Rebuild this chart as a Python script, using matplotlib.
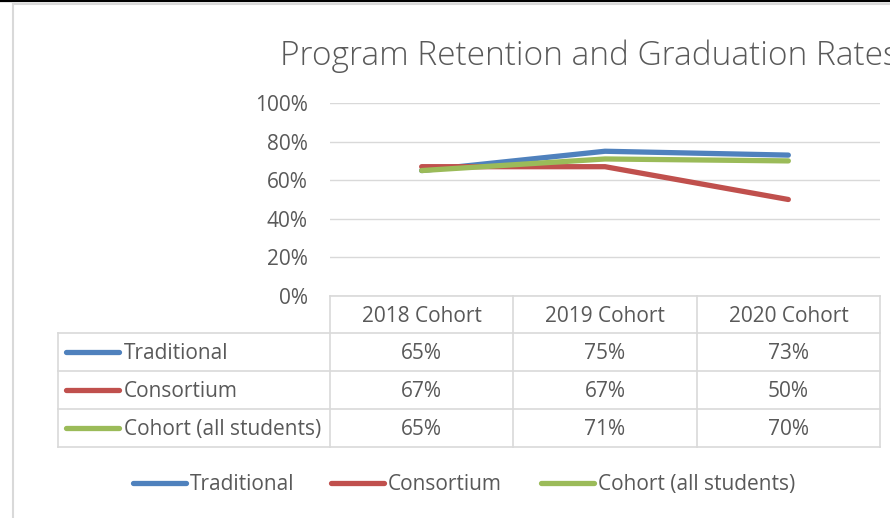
import matplotlib.pyplot as plt
import numpy as np

plt.rcParams['font.family'] = ['Open Sans', 'DejaVu Sans']

# data
cohorts = ['2018 Cohort', '2019 Cohort', '2020 Cohort']
series_names = ['Traditional', 'Consortium', 'Cohort (all students)']
traditional = [0.65, 0.75, 0.73]
consortium = [0.67, 0.67, 0.50]
cohort_all = [0.65, 0.71, 0.70]
y_ticks = [0, 0.2, 0.4, 0.6, 0.8, 1.0]

colors = ['#4f81bd', '#c0504d', '#9bbb59']
text_col = '#595959'
grid_col = '#d9d9d9'

W, H = 890, 518
fig = plt.figure(figsize=(W / 100, H / 100), dpi=100)

# pixel helpers (top-left origin)
def fx(px):
    return px / W

def fy(py):
    return 1 - py / H

fs = 15
dy = 1.5  # small nudge so text sits like the reference

# plot area
left, right, top, bottom = 330, 880, 103, 296
ax = fig.add_axes([fx(left), fy(bottom), fx(right - left), (bottom - top) / H])
x = np.arange(len(cohorts))
all_series = [traditional, consortium, cohort_all]
for vals, c in zip(all_series, colors):
    ax.plot(x, vals, color=c, linewidth=3.8, solid_capstyle='round',
            solid_joinstyle='round', zorder=3)
ax.set_xlim(-0.5, len(cohorts) - 0.5)
ax.set_ylim(0, 1.0)
ax.set_yticks(y_ticks)
ax.set_yticklabels([f'{int(round(v * 100))}%' for v in y_ticks])
ax.tick_params(axis='y', length=0, pad=16, labelsize=fs, labelcolor=text_col)
for lbl in ax.get_yticklabels():
    lbl.set_y(lbl.get_position()[1])
ax.set_xticks([])
for s in ax.spines.values():
    s.set_visible(False)
ax.grid(axis='y', color=grid_col, linewidth=1.0)
ax.set_axisbelow(True)
ax.patch.set_alpha(0)

# overlay axes in pixel coords for table, legend, frame
ov = fig.add_axes([0, 0, 1, 1], zorder=-1)
ov.set_xlim(0, W)
ov.set_ylim(H, 0)
ov.axis('off')

# outer frame bits
ov.plot([0, W], [1.2, 1.2], color='black', linewidth=1.6)
ov.plot([13, W], [3.5, 3.5], color=grid_col, linewidth=1.5)
ov.plot([13, 13], [3.5, H], color=grid_col, linewidth=1.5)

# title
ov.text(280, 65, 'Program Retention and Graduation Rates', fontsize=24,
        color=text_col, ha='left', va='baseline', fontweight='light')

# data table
col_edges = [330, 513, 697, 880]
row_edges = [296, 333, 371, 409, 447]
tbl_left = 58
tc = dict(color=grid_col, linewidth=1.2)
ov.plot([col_edges[0], col_edges[-1]], [row_edges[0]] * 2, **tc)
for ry in row_edges[1:]:
    ov.plot([tbl_left, col_edges[-1]], [ry, ry], **tc)
for cx in col_edges:
    ov.plot([cx, cx], [row_edges[0], row_edges[-1]], **tc)
ov.plot([tbl_left, tbl_left], [row_edges[1], row_edges[-1]], **tc)

for j, name in enumerate(cohorts):
    cx = (col_edges[j] + col_edges[j + 1]) / 2
    ov.text(cx, (row_edges[0] + row_edges[1]) / 2 + dy, name, fontsize=fs,
            color=text_col, ha='center', va='center')
for i, (name, vals, c) in enumerate(zip(series_names, all_series, colors)):
    cy = (row_edges[i + 1] + row_edges[i + 2]) / 2
    ov.plot([66, 119], [cy, cy], color=c, linewidth=3.8, solid_capstyle='round')
    ov.text(124, cy + dy, name, fontsize=fs, color=text_col, ha='left', va='center')
    for j, v in enumerate(vals):
        cx = (col_edges[j] + col_edges[j + 1]) / 2
        ov.text(cx, cy + dy, f'{int(round(v * 100))}%', fontsize=fs,
                color=text_col, ha='center', va='center')

# bottom legend
leg_x = [133, 331, 541]
for lx, name, c in zip(leg_x, series_names, colors):
    ov.plot([lx, lx + 53], [483, 483], color=c, linewidth=3.8, solid_capstyle='round')
    ov.text(lx + 57, 483 + dy, name, fontsize=fs, color=text_col, ha='left', va='center')

fig.savefig('out.png', dpi=100)
